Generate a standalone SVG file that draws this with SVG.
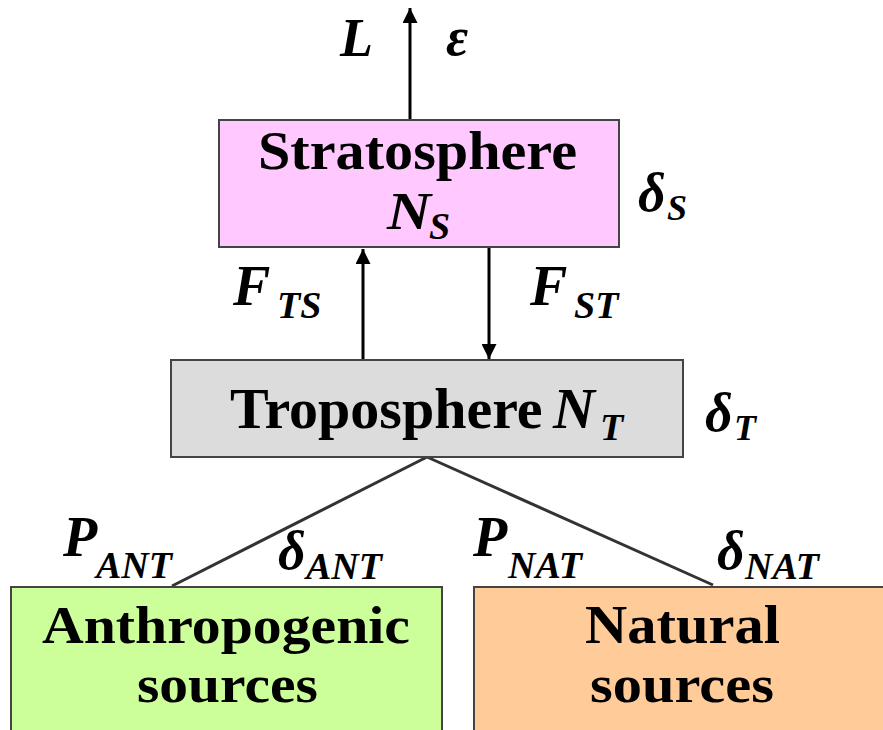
<svg xmlns="http://www.w3.org/2000/svg" width="883" height="730" viewBox="0 0 883 730">
<defs>
<marker id="ah" viewBox="0 0 10 10" refX="10" refY="5" markerWidth="5.5" markerHeight="5" markerUnits="strokeWidth" orient="auto">
<path d="M0,0 L10,5 L0,10 z" fill="#000"/>
</marker>
<style>
.box{stroke:#444;stroke-width:2}
.lbl{font-family:"Liberation Serif","Times New Roman",serif;font-weight:bold;fill:#000}
.it{font-family:"Liberation Serif","Times New Roman",serif;font-weight:bold;font-style:italic;fill:#000}
.gr{font-family:"Liberation Serif","Times New Roman",serif;font-weight:bold;font-style:italic;fill:#000}
.arr{stroke:#000;stroke-width:3;fill:none;marker-end:url(#ah)}
.ln{stroke:#333;stroke-width:3;fill:none}
</style>
</defs>
<g id="connectors">
<line class="arr" x1="410" y1="120" x2="410" y2="8"/>
<line class="arr" x1="363" y1="359" x2="363" y2="249"/>
<line class="arr" x1="489" y1="248" x2="489" y2="359"/>
<line class="ln" x1="427" y1="457" x2="172" y2="586"/>
<line class="ln" x1="427" y1="457" x2="713" y2="585"/>
</g>
<g id="labels">
<text class="it" x="340" y="56" font-size="54">L</text>
<text class="gr" x="446" y="55" font-size="54">ε</text>
<text class="it" x="233" y="305" font-size="56">F</text>
<text class="it" x="277" y="318" font-size="38">TS</text>
<text class="it" x="530" y="305" font-size="56">F</text>
<text class="it" x="574" y="318" font-size="38">ST</text>
<text class="gr" x="638" y="211" font-size="54">δ</text>
<text class="it" x="667" y="220" font-size="36">S</text>
<text class="gr" x="705" y="431" font-size="54">δ</text>
<text class="it" x="734" y="440" font-size="36">T</text>
<text class="it" x="63" y="556" font-size="56">P</text>
<text class="it" x="96" y="578" font-size="38">ANT</text>
<text class="gr" x="278" y="569" font-size="54">δ</text>
<text class="it" x="306" y="579" font-size="38">ANT</text>
<text class="it" x="473" y="556" font-size="56">P</text>
<text class="it" x="508" y="578" font-size="38">NAT</text>
<text class="gr" x="717" y="569" font-size="54">δ</text>
<text class="it" x="745" y="579" font-size="38">NAT</text>
</g>
<g id="stratosphere">
<rect class="box" x="219" y="120" width="400" height="127" fill="#FFC8FF"/>
<text class="lbl" x="258" y="169" font-size="54" textLength="319" lengthAdjust="spacingAndGlyphs">Stratosphere</text>
<text class="it" x="387" y="229" font-size="52" textLength="44" lengthAdjust="spacingAndGlyphs">N</text>
<text class="it" x="429" y="239" font-size="38">S</text>
</g>
<g id="troposphere">
<rect class="box" x="171" y="360" width="512" height="97" fill="#DCDCDC"/>
<text class="lbl" x="230" y="428" font-size="58">Troposphere</text>
<text class="it" x="553" y="428" font-size="58">N</text>
<text class="it" x="600" y="440" font-size="38">T</text>
</g>
<g id="anthropogenic">
<rect class="box" x="11" y="587" width="431" height="150" fill="#CCFF99"/>
<text class="lbl" x="42" y="643" font-size="52" textLength="368" lengthAdjust="spacingAndGlyphs">Anthropogenic</text>
<text class="lbl" x="137" y="702" font-size="52" textLength="181" lengthAdjust="spacingAndGlyphs">sources</text>
</g>
<g id="natural">
<rect class="box" x="474" y="587" width="420" height="150" fill="#FFCC99"/>
<text class="lbl" x="585" y="643" font-size="54" textLength="195" lengthAdjust="spacingAndGlyphs">Natural</text>
<text class="lbl" x="590" y="702" font-size="52" textLength="184" lengthAdjust="spacingAndGlyphs">sources</text>
</g>
</svg>
